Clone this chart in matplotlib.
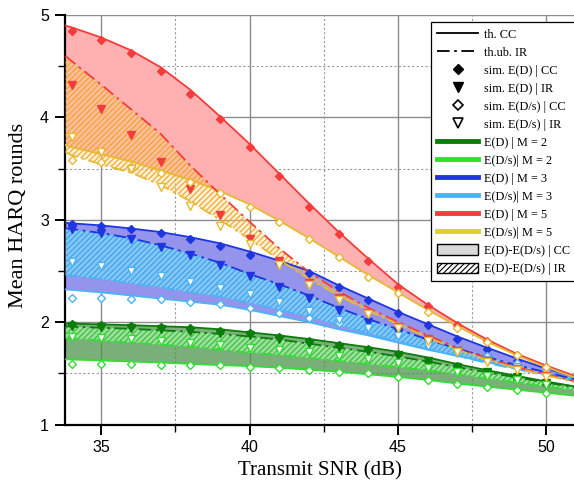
import numpy as np
import matplotlib
matplotlib.use("Agg")
import matplotlib.pyplot as plt
from matplotlib.lines import Line2D
from matplotlib.patches import Patch
from matplotlib.ticker import MultipleLocator

plt.rcParams['hatch.linewidth'] = 0.8

# ---------------- data ----------------
snr_th = [33.8, 34, 35, 36, 37, 38, 39, 40, 41, 42, 43, 44, 45, 46, 47, 48, 49, 50, 51]
snr_sim = [34, 35, 36, 37, 38, 39, 40, 41, 42, 43, 44, 45, 46, 47, 48, 49, 50]

# M = 5
m5_ed_cc = [4.895, 4.88, 4.78, 4.655, 4.49, 4.27, 4.01, 3.74, 3.45, 3.16, 2.88, 2.62, 2.37, 2.17, 1.99, 1.83, 1.69, 1.575, 1.47]
m5_eds_cc = [3.73, 3.71, 3.64, 3.57, 3.48, 3.39, 3.28, 3.15, 2.99, 2.82, 2.64, 2.46, 2.29, 2.12, 1.96, 1.81, 1.675, 1.56, 1.455]
m5_ed_ir = [4.60, 4.55, 4.32, 4.08, 3.84, 3.53, 3.25, 2.98, 2.72, 2.49, 2.30, 2.14, 2.00, 1.87, 1.75, 1.65, 1.56, 1.49, 1.42]
m5_eds_ir = [3.66, 3.63, 3.54, 3.46, 3.34, 3.18, 3.00, 2.81, 2.61, 2.42, 2.26, 2.11, 1.98, 1.85, 1.73, 1.63, 1.55, 1.48, 1.41]
m5_sim_ed_cc = [4.847, 4.753, 4.626, 4.453, 4.231, 3.987, 3.708, 3.43, 3.127, 2.858, 2.597, 2.346, 2.153, 1.97, 1.815, 1.68, 1.565]
m5_sim_ed_ir = [4.316, 4.079, 3.828, 3.561, 3.30, 3.046, 2.809, 2.60, 2.379, 2.238, 2.086, 1.955, 1.832, 1.72, 1.62, 1.54, 1.47]
m5_sim_eds_cc = [3.584, 3.561, 3.512, 3.453, 3.372, 3.264, 3.127, 2.981, 2.808, 2.632, 2.444, 2.281, 2.102, 1.945, 1.803, 1.675, 1.56]
m5_sim_eds_ir = [3.81, 3.665, 3.50, 3.32, 3.134, 2.94, 2.76, 2.56, 2.36, 2.22, 2.08, 1.94, 1.82, 1.71, 1.61, 1.53, 1.46]

# M = 3
m3_ed_cc = [2.97, 2.965, 2.945, 2.915, 2.88, 2.83, 2.77, 2.69, 2.60, 2.50, 2.36, 2.23, 2.10, 1.98, 1.86, 1.75, 1.645, 1.545, 1.465]
m3_eds_cc = [2.32, 2.315, 2.29, 2.26, 2.23, 2.20, 2.17, 2.12, 2.06, 2.00, 1.93, 1.87, 1.80, 1.73, 1.67, 1.61, 1.55, 1.49, 1.43]
m3_ed_ir = [2.916, 2.91, 2.87, 2.82, 2.75, 2.67, 2.58, 2.47, 2.37, 2.26, 2.14, 2.03, 1.93, 1.83, 1.74, 1.66, 1.58, 1.51, 1.44]
m3_eds_ir = [2.46, 2.455, 2.42, 2.38, 2.34, 2.29, 2.25, 2.19, 2.12, 2.05, 1.97, 1.89, 1.81, 1.74, 1.67, 1.60, 1.54, 1.48, 1.42]
m3_sim_ed_cc = [2.958, 2.939, 2.907, 2.868, 2.812, 2.744, 2.656, 2.580, 2.483, 2.346, 2.216, 2.086, 1.972, 1.835, 1.737, 1.623, 1.525]
m3_sim_ed_ir = [2.907, 2.868, 2.809, 2.737, 2.653, 2.555, 2.450, 2.346, 2.238, 2.118, 2.004, 1.906, 1.809, 1.72, 1.64, 1.56, 1.49]
m3_sim_eds_cc = [2.232, 2.232, 2.229, 2.222, 2.199, 2.174, 2.135, 2.086, 2.037, 1.988, 1.94, 1.874, 1.809, 1.74, 1.67, 1.60, 1.53]
m3_sim_eds_ir = [2.584, 2.548, 2.502, 2.447, 2.392, 2.330, 2.27, 2.20, 2.11, 2.02, 1.94, 1.86, 1.77, 1.70, 1.63, 1.56, 1.50]

# M = 2
m2_ed_cc = [1.988, 1.985, 1.978, 1.97, 1.96, 1.95, 1.93, 1.90, 1.87, 1.835, 1.795, 1.755, 1.71, 1.655, 1.59, 1.53, 1.475, 1.42, 1.37]
m2_eds_cc = [1.637, 1.635, 1.625, 1.615, 1.605, 1.592, 1.58, 1.57, 1.555, 1.535, 1.515, 1.49, 1.465, 1.435, 1.40, 1.37, 1.34, 1.31, 1.28]
m2_ed_ir = [1.96, 1.955, 1.945, 1.935, 1.92, 1.905, 1.885, 1.86, 1.83, 1.79, 1.75, 1.71, 1.665, 1.615, 1.56, 1.51, 1.46, 1.41, 1.36]
m2_eds_ir = [1.842, 1.84, 1.82, 1.80, 1.78, 1.76, 1.73, 1.70, 1.68, 1.65, 1.62, 1.59, 1.56, 1.53, 1.49, 1.45, 1.41, 1.37, 1.33]
m2_sim_ed_cc = [1.978, 1.971, 1.965, 1.955, 1.942, 1.916, 1.89, 1.858, 1.818, 1.776, 1.734, 1.688, 1.623, 1.571, 1.506, 1.457, 1.40]
m2_sim_ed_ir = [1.965, 1.955, 1.945, 1.933, 1.918, 1.898, 1.87, 1.84, 1.80, 1.76, 1.72, 1.675, 1.62, 1.565, 1.51, 1.46, 1.41]
m2_sim_eds_cc = [1.59, 1.59, 1.587, 1.584, 1.584, 1.578, 1.564, 1.549, 1.532, 1.516, 1.50, 1.467, 1.434, 1.40, 1.37, 1.34, 1.31]
m2_sim_eds_ir = [1.851, 1.845, 1.832, 1.812, 1.793, 1.773, 1.75, 1.728, 1.705, 1.672, 1.637, 1.598, 1.549, 1.51, 1.47, 1.43, 1.39]

xticks = [35, 40, 45, 50]
yticks = [1, 2, 3, 4, 5]

# ---------------- style ----------------
serif = ['Liberation Serif', 'DejaVu Serif']
sans = ['Liberation Sans', 'DejaVu Sans']

groups = [
    dict(ed_cc=m2_ed_cc, eds_cc=m2_eds_cc, ed_ir=m2_ed_ir, eds_ir=m2_eds_ir,
         s_ed_cc=m2_sim_ed_cc, s_ed_ir=m2_sim_ed_ir, s_eds_cc=m2_sim_eds_cc, s_eds_ir=m2_sim_eds_ir,
         c1='#0a7d0a', c2='#33dd33', ccfill=(0.30, 0.58, 0.30, 0.75), irface=(0.62, 0.92, 0.62, 0.85), irhatch='#3cb83c'),
    dict(ed_cc=m3_ed_cc, eds_cc=m3_eds_cc, ed_ir=m3_ed_ir, eds_ir=m3_eds_ir,
         s_ed_cc=m3_sim_ed_cc, s_ed_ir=m3_sim_ed_ir, s_eds_cc=m3_sim_eds_cc, s_eds_ir=m3_sim_eds_ir,
         c1='#1f35e0', c2='#4cb4f5', ccfill=(0.58, 0.58, 0.93, 1.0), irface=(0.50, 0.82, 0.98, 0.85), irhatch='#3aa0e6'),
    dict(ed_cc=m5_ed_cc, eds_cc=m5_eds_cc, ed_ir=m5_ed_ir, eds_ir=m5_eds_ir,
         s_ed_cc=m5_sim_ed_cc, s_ed_ir=m5_sim_ed_ir, s_eds_cc=m5_sim_eds_cc, s_eds_ir=m5_sim_eds_ir,
         c1='#f43c3c', c2='#e8b830', ccfill=(1.0, 0.69, 0.69, 1.0), irface=(1.0, 0.85, 0.45, 0.35), irhatch='#f0a030'),
]

fig = plt.figure(figsize=(5.74, 4.86), dpi=100)
ax = fig.add_axes([65 / 574, 61.5 / 486, 509 / 574, 409.5 / 486])

for g in groups:
    ax.fill_between(snr_th, g['ed_cc'], g['eds_cc'], facecolor=g['ccfill'], edgecolor='none', linewidth=0, zorder=2)
for g in groups:
    ax.fill_between(snr_th, g['ed_ir'], g['eds_ir'], facecolor=g['irface'], edgecolor=g['irhatch'],
                    hatch='//////', linewidth=0, zorder=3)

dashdot = (0, (7, 2.5, 1.5, 2.5))
for g in groups:
    ax.plot(snr_th, g['ed_cc'], color=g['c1'], lw=1.3, zorder=5)
    ax.plot(snr_th, g['eds_cc'], color=g['c2'], lw=1.3, zorder=5)
    ax.plot(snr_th, g['ed_ir'], color=g['c1'], lw=1.3, ls=dashdot, zorder=5)
    ax.plot(snr_th, g['eds_ir'], color=g['c2'], lw=1.3, ls=dashdot, zorder=5)
for g in groups:
    ax.plot(snr_sim, g['s_ed_cc'], ls='none', marker='D', ms=4.5, color=g['c1'], mec=g['c1'], zorder=6)
    ax.plot(snr_sim, g['s_ed_ir'], ls='none', marker='v', ms=5.5, color=g['c1'], mec=g['c1'], zorder=6)
    ax.plot(snr_sim, g['s_eds_cc'], ls='none', marker='D', ms=4.5, mfc='white', mec=g['c2'], mew=1.0, zorder=6)
    ax.plot(snr_sim, g['s_eds_ir'], ls='none', marker='v', ms=5.5, mfc='white', mec=g['c2'], mew=1.0, zorder=6)

ax.set_xlim(33.78, 50.93)
ax.set_ylim(1, 5)
ax.set_xticks(xticks)
ax.set_yticks(yticks)
ax.xaxis.set_minor_locator(MultipleLocator(2.5))
ax.yaxis.set_minor_locator(MultipleLocator(0.5))
ax.grid(True, which='major', color='#8c8c8c', lw=1.0, zorder=1)
ax.grid(True, which='minor', color='#9a9a9a', lw=0.8, ls=(0, (2, 2)), zorder=1)
ax.set_axisbelow(True)
for s in ['top', 'right']:
    ax.spines[s].set_visible(False)
for s in ['left', 'bottom']:
    ax.spines[s].set_linewidth(1.6)
    ax.spines[s].set_color('black')
ax.tick_params(which='major', direction='out', length=7, width=1.4, labelsize=11.5, pad=4.5)
ax.tick_params(which='minor', direction='out', length=5, width=1.0)
for lab in ax.get_xticklabels() + ax.get_yticklabels():
    lab.set_family(sans)

ax.set_xlabel('Transmit SNR (dB)', family=serif, fontsize=15, labelpad=4)
ax.set_ylabel('Mean HARQ rounds', family=serif, fontsize=16)
ax.yaxis.set_label_coords(-0.072, 0.51)

handles = [
    Line2D([], [], color='black', lw=1.3),
    Line2D([], [], color='black', lw=1.3, ls=dashdot),
    Line2D([], [], ls='none', marker='D', ms=5, color='black'),
    Line2D([], [], ls='none', marker='v', ms=6.5, color='black'),
    Line2D([], [], ls='none', marker='D', ms=5, mfc='white', mec='black', mew=1.2),
    Line2D([], [], ls='none', marker='v', ms=6.5, mfc='white', mec='black', mew=1.2),
    Line2D([], [], color=groups[0]['c1'], lw=3.5),
    Line2D([], [], color=groups[0]['c2'], lw=3.5),
    Line2D([], [], color=groups[1]['c1'], lw=3.5),
    Line2D([], [], color=groups[1]['c2'], lw=3.5),
    Line2D([], [], color=groups[2]['c1'], lw=3.5),
    Line2D([], [], color='#e0d030', lw=3.5),
    Patch(facecolor='#d9d9d9', edgecolor='black', lw=1.0),
    Patch(facecolor='white', edgecolor='black', lw=1.0, hatch='//////'),
]
labels = ['th. CC', 'th.ub. IR', 'sim. E(D) | CC', 'sim. E(D) | IR', 'sim. E(D/s) | CC', 'sim. E(D/s) | IR',
          'E(D) | M = 2', 'E(D/s)| M = 2', 'E(D) | M = 3', 'E(D/s)| M = 3', 'E(D) | M = 5', 'E(D/s)| M = 5',
          'E(D)-E(D/s) | CC', 'E(D)-E(D/s) | IR']
leg = ax.legend(handles, labels, loc='upper right', bbox_to_anchor=(1.004, 0.983), borderaxespad=0,
                prop={'family': serif, 'size': 8.8}, frameon=True, fancybox=False, framealpha=1,
                edgecolor='black', handlelength=3.3, handleheight=1.0, labelspacing=0.44,
                borderpad=0.5, handletextpad=0.5)
leg.get_frame().set_linewidth(0.9)
leg.set_zorder(10)

fig.savefig('out.png', dpi=100)
